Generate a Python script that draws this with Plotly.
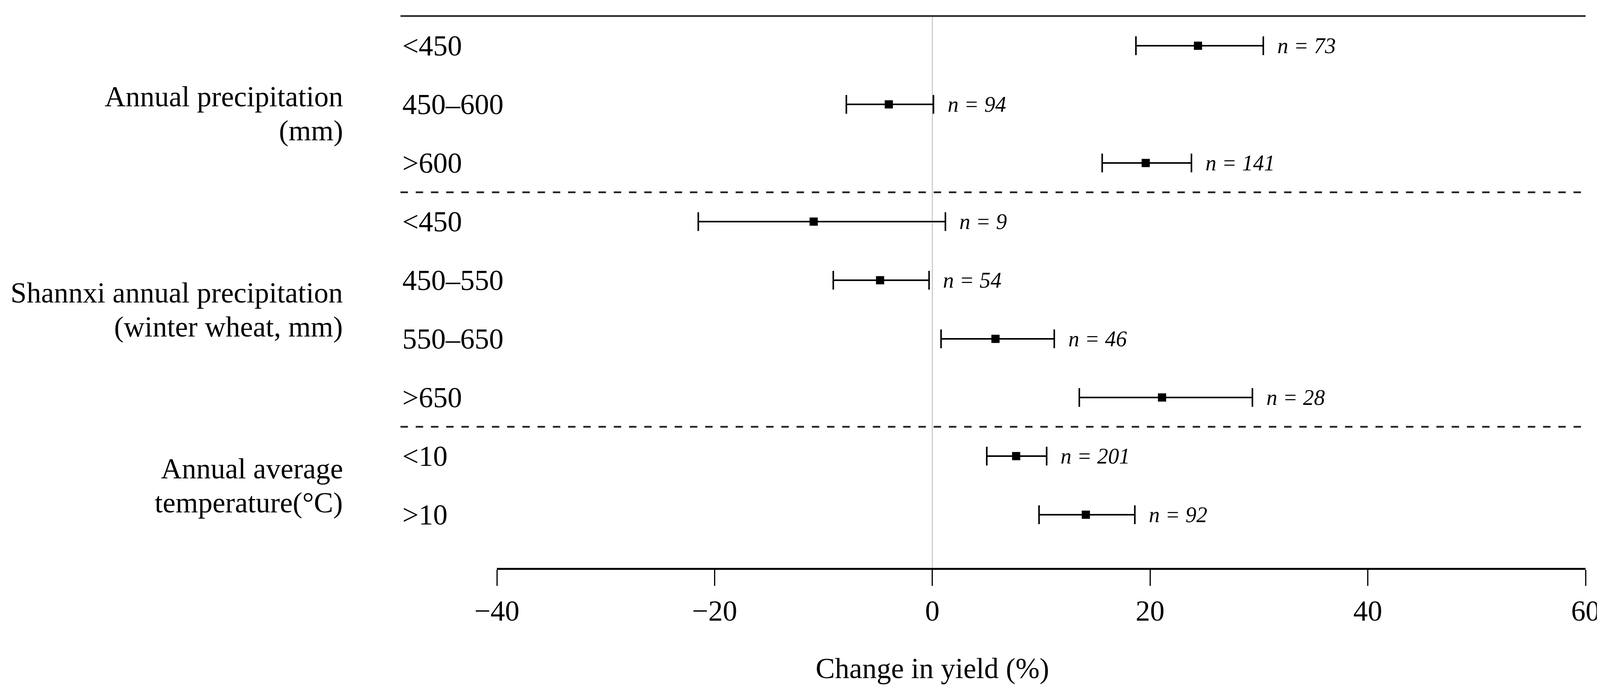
import plotly.graph_objects as go

# ---- data ----
categories = ["<450", "450–600", ">600",
              "<450", "450–550", "550–650", ">650",
              "<10", ">10"]
means = [24.4, -4.0, 19.6, -10.9, -4.8, 5.8, 21.1, 7.7, 14.1]
lower = [18.7, -7.9, 15.6, -21.5, -9.1, 0.8, 13.5, 5.0, 9.8]
upper = [30.4, 0.1, 23.8, 1.2, -0.3, 11.2, 29.4, 10.5, 18.6]
n_obs = [73, 94, 141, 9, 54, 46, 28, 201, 92]

group_names = [["Annual precipitation", "(mm)"],
               ["Shannxi annual precipitation", "(winter wheat, mm)"],
               ["Annual average", "temperature(°C)"]]
group_rows = [[0, 1, 2], [3, 4, 5, 6], [7, 8]]

x_ticks = [-40, -20, 0, 20, 40, 60]
x_ticktext = ["−40", "−20", "0", "20", "40", "60"]
x_title = "Change in yield (%)"

# ---- style ----
FONT = "Liberation Serif"
FS = 74
FS_N = 56
PAD = 8                      # default page body margin
SLACK = 4                    # keep the page a little inside the window
W, H = 4120 - 2 * PAD - SLACK, 1768 - 2 * PAD - SLACK
ML, MT = 1272 - PAD, 41 - PAD
MR, MB = 58 - PAD - SLACK, 315 - PAD - SLACK
PW = W - ML - MR
PH = H - MT - MB
LEFT_EDGE = (1025 - PAD - ML) / PW   # paper x where the horizontal rules start
CAT_X = (1028 - PAD - ML) / PW
GROUP_X = (880 - PAD - ML) / PW

rows = list(range(len(categories)))
err_plus = [u - m for u, m in zip(upper, means)]
err_minus = [m - l for m, l in zip(means, lower)]

fig = go.Figure()
fig.add_trace(go.Scatter(
    x=means, y=rows, mode="markers",
    marker=dict(symbol="square", size=21, color="black"),
    error_x=dict(type="data", symmetric=False, array=err_plus,
                 arrayminus=err_minus, color="black", thickness=4, width=24),
    showlegend=False, hoverinfo="skip", cliponaxis=False,
))

annotations = []
# n labels
for r, u, n in zip(rows, upper, n_obs):
    annotations.append(dict(x=u, y=r, xref="x", yref="y", text=f"<i>n = {n}</i>",
                            showarrow=False, xanchor="left", yanchor="middle",
                            xshift=34, font=dict(family=FONT, size=FS_N, color="black")))
# category labels
for r, c in zip(rows, categories):
    annotations.append(dict(x=CAT_X, y=r, xref="paper", yref="y", text=c,
                            showarrow=False, xanchor="left", yanchor="middle",
                            font=dict(family=FONT, size=FS, color="black")))
# group labels (two lines each)
group_y = [1.15, 4.5, 7.5]
for (l1, l2), gy in zip(group_names, group_y):
    for txt, shift in ((l1, 43), (l2, -44)):
        annotations.append(dict(x=GROUP_X, y=gy, xref="paper", yref="y", text=txt,
                                showarrow=False, xanchor="right", yanchor="middle",
                                yshift=shift, align="right",
                                font=dict(family=FONT, size=FS, color="black")))
# x axis title
annotations.append(dict(x=0, y=-0.182, xref="x", yref="paper", text=x_title,
                        showarrow=False, xanchor="center", yanchor="middle",
                        font=dict(family=FONT, size=FS, color="black")))

shapes = [
    # zero reference line
    dict(type="line", xref="x", yref="paper", x0=0, x1=0, y0=0, y1=1,
         line=dict(color="#c4c4c4", width=2.5), layer="below"),
    # top rule
    dict(type="line", xref="paper", yref="paper", x0=LEFT_EDGE, x1=1, y0=1, y1=1,
         line=dict(color="#2a2a2a", width=4.5)),
]
for sep in (2.5, 6.5):
    shapes.append(dict(type="line", xref="paper", yref="y", x0=LEFT_EDGE, x1=1,
                       y0=sep, y1=sep,
                       line=dict(color="#222222", width=4.5, dash="19px,20px")))

fig.update_layout(
    width=W, height=H,
    margin=dict(l=ML, r=MR, t=MT, b=MB),
    paper_bgcolor="white", plot_bgcolor="white",
    font=dict(family=FONT, size=FS, color="black"),
    annotations=annotations, shapes=shapes,
    xaxis=dict(range=[-40, 60], tickvals=x_ticks, ticktext=x_ticktext,
               showline=True, linecolor="black", linewidth=5,
               ticks="outside", ticklen=41, tickwidth=2.5, tickcolor="black",
               showgrid=False, zeroline=False,
               tickfont=dict(family=FONT, size=FS, color="black")),
    yaxis=dict(range=[8.907, -0.507], showticklabels=False, showgrid=False,
               zeroline=False, showline=False, ticks=""),
)

fig.write_html("out.html")
